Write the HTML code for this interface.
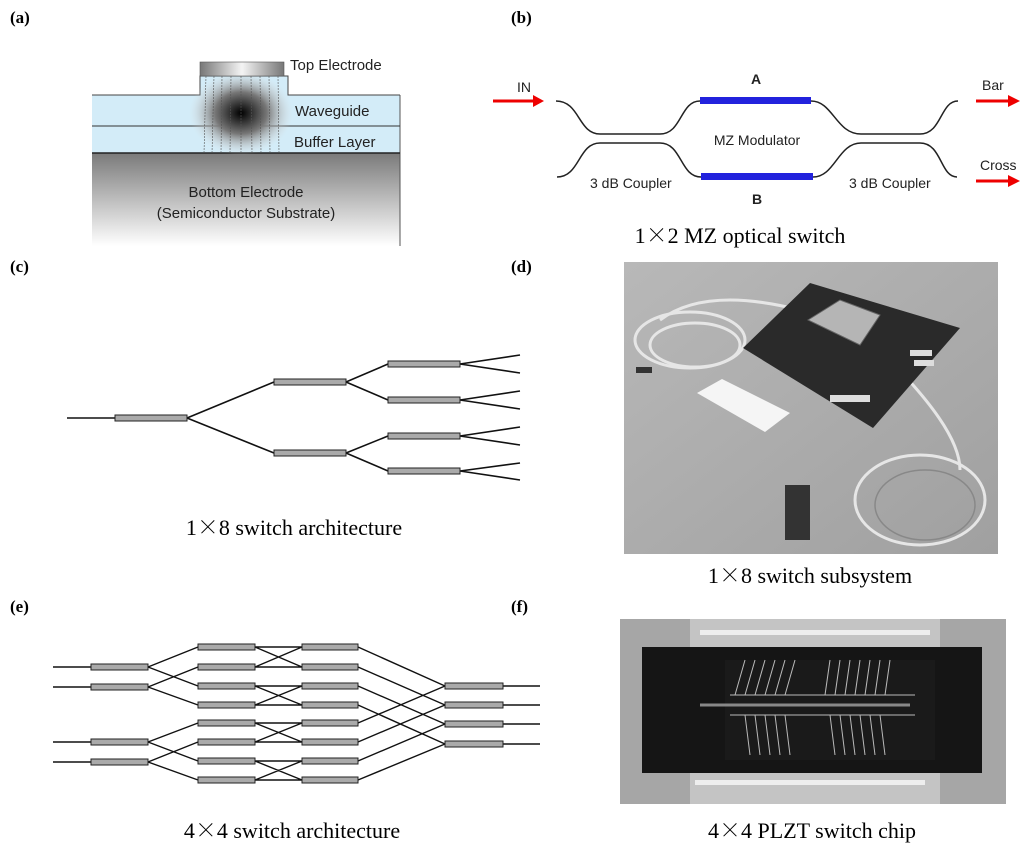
<!DOCTYPE html>
<html><head><meta charset="utf-8"><style>
body{margin:0;background:#fff;width:1024px;height:850px;overflow:hidden;position:relative}
svg{position:absolute;left:0;top:0}
.lbl{font-family:"Liberation Serif",serif;font-weight:bold;font-size:17px}
.cap{font-family:"Liberation Serif",serif;font-size:22px}
.x{font-family:"Noto Serif CJK SC",serif}
.sans{font-family:"Liberation Sans",sans-serif}
</style></head><body>
<svg width="1024" height="850" viewBox="0 0 1024 850">
<defs>
<linearGradient id="sub" x1="0" y1="0" x2="0" y2="1"><stop offset="0" stop-color="#7a7a7a"/><stop offset="0.5" stop-color="#bdbdbd"/><stop offset="1" stop-color="#fff"/></linearGradient>
<linearGradient id="el" x1="0" y1="0" x2="1" y2="0"><stop offset="0" stop-color="#777"/><stop offset="0.5" stop-color="#f4f4f4"/><stop offset="1" stop-color="#777"/></linearGradient>
<radialGradient id="mode" cx="0.5" cy="0.5" r="0.5"><stop offset="0" stop-color="#000"/><stop offset="0.5" stop-color="#777"/><stop offset="1" stop-color="#ddd" stop-opacity="0"/></radialGradient>
<linearGradient id="ph" x1="0" y1="0" x2="1" y2="1"><stop offset="0" stop-color="#b8b8b8"/><stop offset="1" stop-color="#a0a0a0"/></linearGradient>
</defs>
<!-- (a) -->
<text x="10" y="23" class="lbl">(a)</text>
<rect x="92" y="95" width="308" height="58" fill="#d3ecf8"/>
<rect x="200" y="76" width="88" height="19" fill="#d3ecf8"/>
<rect x="92" y="153" width="308" height="93" fill="url(#sub)"/>
<line x1="400" y1="95" x2="400" y2="246" stroke="#555"/>
<path d="M92 95H200V76H288V95H400" fill="none" stroke="#444"/>
<line x1="92" y1="126" x2="400" y2="126" stroke="#333"/>
<line x1="92" y1="153" x2="400" y2="153" stroke="#222" stroke-width="1.5"/>
<ellipse cx="241" cy="113" rx="52" ry="42" fill="url(#mode)"/>
<g stroke="#555" stroke-width="0.6" stroke-dasharray="2,1">
<line x1="206" y1="76" x2="204" y2="153"/><line x1="214" y1="76" x2="212" y2="153"/><line x1="222" y1="76" x2="221" y2="153"/><line x1="231" y1="76" x2="230" y2="153"/><line x1="241" y1="76" x2="241" y2="153"/><line x1="251" y1="76" x2="252" y2="153"/><line x1="260" y1="76" x2="261" y2="153"/><line x1="269" y1="76" x2="270" y2="153"/><line x1="278" y1="76" x2="279" y2="153"/></g>
<rect x="200" y="62" width="84" height="14" fill="url(#el)" stroke="#555" stroke-width="0.6"/>
<g class="sans" font-size="15" fill="#222">
<text x="290" y="70">Top Electrode</text>
<text x="295" y="116">Waveguide</text>
<text x="294" y="147">Buffer Layer</text>
<text x="246" y="197" text-anchor="middle">Bottom Electrode</text>
<text x="246" y="218" text-anchor="middle">(Semiconductor Substrate)</text></g>
<!-- (b) -->
<text x="511" y="23" class="lbl">(b)</text>
<g fill="none" stroke="#222" stroke-width="1.5">
<path d="M556 101C580 101 578 134 600 134H660C682 134 680 101 700 101"/>
<path d="M811 101C833 101 836 134 861 134H920C942 134 940 101 958 101"/>
<path d="M557 177C580 177 578 143 600 143H660C682 143 680 177 701 177"/>
<path d="M813 177C835 177 838 143 861 143H920C942 143 940 177 957 177"/></g>
<rect x="700" y="97" width="111" height="7" fill="#2222dd"/>
<rect x="701" y="173" width="112" height="7" fill="#2222dd"/>
<g fill="#e00" stroke="#e00" stroke-width="3">
<line x1="493" y1="101" x2="535" y2="101"/><polygon points="533,95 544,101 533,107" stroke="none"/>
<line x1="976" y1="101" x2="1010" y2="101"/><polygon points="1008,95 1020,101 1008,107" stroke="none"/>
<line x1="976" y1="181" x2="1010" y2="181"/><polygon points="1008,175 1020,181 1008,187" stroke="none"/></g>
<g class="sans" font-size="14" fill="#222">
<text x="517" y="92">IN</text>
<text x="756" y="84" text-anchor="middle" font-weight="bold">A</text>
<text x="757" y="145" text-anchor="middle">MZ Modulator</text>
<text x="590" y="188">3 dB Coupler</text>
<text x="849" y="188">3 dB Coupler</text>
<text x="982" y="90">Bar</text>
<text x="980" y="170">Cross</text>
<text x="757" y="204" text-anchor="middle" font-weight="bold">B</text></g>
<text x="740" y="243" class="cap" text-anchor="middle">1<tspan class="x">×</tspan>2 MZ optical switch</text>
<!-- (c) -->
<text x="10" y="272" class="lbl">(c)</text>
<g fill="none" stroke="#111" stroke-width="1.6">
<line x1="67" y1="418" x2="115" y2="418"/>
<path d="M187 418L274 382M187 418L274 453"/>
<path d="M346 382L388 364M346 382L388 400M346 453L388 436M346 453L388 471"/>
<path d="M460 364L520 355M460 364L520 373M460 400L520 391M460 400L520 409M460 436L520 427M460 436L520 445M460 471L520 463M460 471L520 480"/></g>
<g fill="#aaa" stroke="#222" stroke-width="1">
<rect x="115" y="415" width="72" height="6"/>
<rect x="274" y="379" width="72" height="6"/><rect x="274" y="450" width="72" height="6"/>
<rect x="388" y="361" width="72" height="6"/><rect x="388" y="397" width="72" height="6"/><rect x="388" y="433" width="72" height="6"/><rect x="388" y="468" width="72" height="6"/></g>
<text x="294" y="535" class="cap" text-anchor="middle">1<tspan class="x">×</tspan>8 switch architecture</text>
<!-- (d) -->
<text x="511" y="272" class="lbl">(d)</text>
<rect x="624" y="262" width="374" height="292" fill="url(#ph)"/>
<g fill="none" stroke="#e6e6e6" stroke-width="3">
<ellipse cx="690" cy="340" rx="55" ry="28"/><ellipse cx="695" cy="345" rx="45" ry="22"/>
<path d="M660 320C700 290 760 300 800 310"/>
<path d="M880 350C930 400 960 440 960 470"/>
<ellipse cx="920" cy="500" rx="65" ry="45"/><ellipse cx="925" cy="505" rx="50" ry="35" stroke="#888" stroke-width="1.5"/></g>
<polygon points="743,348 810,283 960,328 873,428" fill="#2a2a2a"/>
<polygon points="808,320 840,300 880,315 860,345" fill="#b5b5b5" stroke="#666"/>
<g fill="#ddd"><rect x="910" y="350" width="22" height="6"/><rect x="914" y="360" width="20" height="6"/><rect x="830" y="395" width="40" height="7"/></g>
<polygon points="697,393 722,379 790,413 765,432" fill="#f5f5f5"/>
<g fill="#333"><rect x="636" y="367" width="16" height="6"/><rect x="785" y="485" width="25" height="55"/></g>
<text x="810" y="583" class="cap" text-anchor="middle">1<tspan class="x">×</tspan>8 switch subsystem</text>
<!-- (e) -->
<text x="10" y="612" class="lbl">(e)</text>
<g fill="none" stroke="#111" stroke-width="1.4">
<path d="M53 667H91M53 687H91M53 742H91M53 762H91"/>
<path d="M148 667L198 647M148 667L198 686M148 687L198 667M148 687L198 705M148 742L198 723M148 742L198 761M148 762L198 742M148 762L198 780"/>
<path d="M255 647H302L255 667H302L255 647M255 686H302L255 705H302L255 686M255 723H302L255 742H302L255 723M255 761H302L255 780H302L255 761"/>
<path d="M358 647L445 686M358 667L445 705M358 686L445 724M358 705L445 744M358 723L445 686M358 742L445 705M358 761L445 724M358 780L445 744"/>
<path d="M503 686H540M503 705H540M503 724H540M503 744H540"/></g>
<g fill="#aaa" stroke="#222" stroke-width="1">
<rect x="91" y="664" width="57" height="6"/><rect x="91" y="684" width="57" height="6"/><rect x="91" y="739" width="57" height="6"/><rect x="91" y="759" width="57" height="6"/>
<rect x="198" y="644" width="57" height="6"/><rect x="198" y="664" width="57" height="6"/><rect x="198" y="683" width="57" height="6"/><rect x="198" y="702" width="57" height="6"/><rect x="198" y="720" width="57" height="6"/><rect x="198" y="739" width="57" height="6"/><rect x="198" y="758" width="57" height="6"/><rect x="198" y="777" width="57" height="6"/>
<rect x="302" y="644" width="56" height="6"/><rect x="302" y="664" width="56" height="6"/><rect x="302" y="683" width="56" height="6"/><rect x="302" y="702" width="56" height="6"/><rect x="302" y="720" width="56" height="6"/><rect x="302" y="739" width="56" height="6"/><rect x="302" y="758" width="56" height="6"/><rect x="302" y="777" width="56" height="6"/>
<rect x="445" y="683" width="58" height="6"/><rect x="445" y="702" width="58" height="6"/><rect x="445" y="721" width="58" height="6"/><rect x="445" y="741" width="58" height="6"/></g>
<text x="292" y="838" class="cap" text-anchor="middle">4<tspan class="x">×</tspan>4 switch architecture</text>
<!-- (f) -->
<text x="511" y="612" class="lbl">(f)</text>
<rect x="620" y="619" width="386" height="185" fill="#a6a6a6"/>
<rect x="690" y="619" width="250" height="28" fill="#c4c4c4"/>
<rect x="690" y="773" width="250" height="31" fill="#c4c4c4"/>
<g fill="#eee"><rect x="700" y="630" width="230" height="5"/><rect x="695" y="780" width="230" height="5"/></g>
<rect x="642" y="647" width="340" height="126" fill="#151515"/>
<rect x="725" y="660" width="210" height="100" fill="#1a1a1a"/>
<g stroke="#bbb" stroke-width="1" fill="none">
<path d="M730 695H840M730 715H840M820 695H915M820 715H915"/>
<path d="M745 660L735 695M755 660L745 695M765 660L755 695M775 660L765 695M785 660L775 695M795 660L785 695M830 660L825 695M840 660L835 695M850 660L845 695M860 660L855 695M870 660L865 695M880 660L875 695M890 660L885 695"/>
<path d="M745 715L750 755M755 715L760 755M765 715L770 755M775 715L780 755M785 715L790 755M830 715L835 755M840 715L845 755M850 715L855 755M860 715L865 755M870 715L875 755M880 715L885 755"/></g>
<line x1="700" y1="705" x2="910" y2="705" stroke="#888" stroke-width="3"/>
<text x="812" y="838" class="cap" text-anchor="middle">4<tspan class="x">×</tspan>4 PLZT switch chip</text>
</svg>
</body></html>
